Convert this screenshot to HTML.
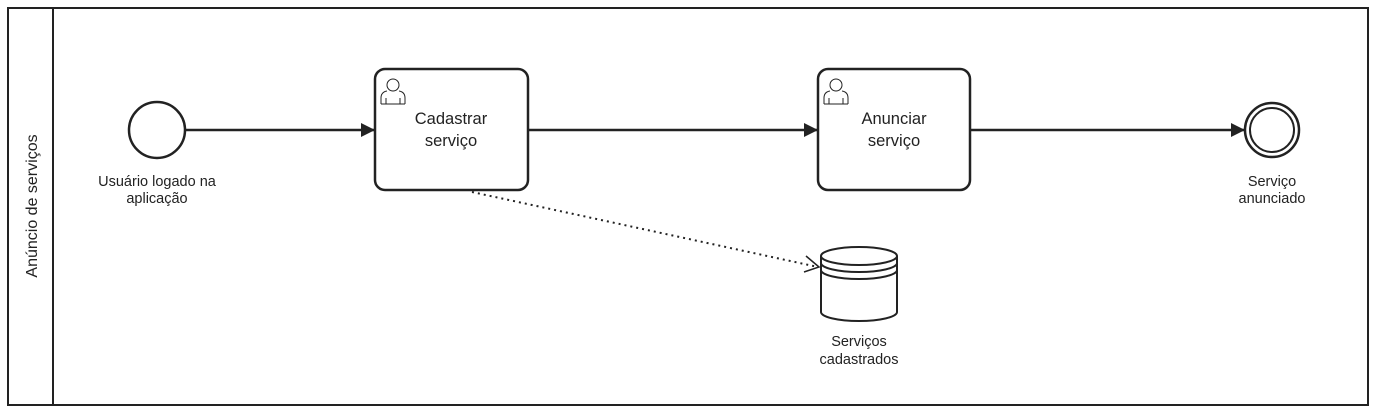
<!DOCTYPE html>
<html><head><style>body{margin:0;background:#fff}svg{display:block}text{font-family:"Liberation Sans",sans-serif;fill:#222}</style></head><body>
<svg width="1376" height="415" viewBox="0 0 1376 415">
<defs><marker id="a" markerWidth="14" markerHeight="14" refX="13" refY="7" orient="auto" markerUnits="userSpaceOnUse"><path d="M0,0 L14,7 L0,14z" fill="#222"/></marker></defs>
<rect x="8" y="8" width="1360" height="397" fill="none" stroke="#222" stroke-width="2"/>
<line x1="53" y1="8" x2="53" y2="405" stroke="#222" stroke-width="2"/>
<text transform="translate(37,206) rotate(-90)" text-anchor="middle" font-size="16">Anúncio de serviços</text>
<circle cx="157" cy="130" r="28" fill="#fff" stroke="#222" stroke-width="2.5"/>
<text x="157" y="186" text-anchor="middle" font-size="14.5">Usuário logado na</text>
<text x="157" y="203" text-anchor="middle" font-size="14.5">aplicação</text>
<line x1="185" y1="130" x2="374" y2="130" stroke="#222" stroke-width="2.5" marker-end="url(#a)"/>
<rect x="375" y="69" width="153" height="121" rx="10" fill="#fff" stroke="#222" stroke-width="2.5"/>
<text x="451" y="124" text-anchor="middle" font-size="16.5">Cadastrar</text>
<text x="451" y="146" text-anchor="middle" font-size="16.5">serviço</text>
<g fill="none" stroke="#222" stroke-width="1"><circle cx="393" cy="85" r="6"/><path d="M381,104 v-6 q0,-6 6,-7 M405,104 v-6 q0,-6 -6,-7 M381,104 h24 M386,104 v-6 M400,104 v-6"/></g>
<line x1="528" y1="130" x2="817" y2="130" stroke="#222" stroke-width="2.5" marker-end="url(#a)"/>
<rect x="818" y="69" width="152" height="121" rx="10" fill="#fff" stroke="#222" stroke-width="2.5"/>
<text x="894" y="124" text-anchor="middle" font-size="16.5">Anunciar</text>
<text x="894" y="146" text-anchor="middle" font-size="16.5">serviço</text>
<g fill="none" stroke="#222" stroke-width="1"><circle cx="836" cy="85" r="6"/><path d="M824,104 v-6 q0,-6 6,-7 M848,104 v-6 q0,-6 -6,-7 M824,104 h24 M829,104 v-6 M843,104 v-6"/></g>
<line x1="970" y1="130" x2="1244" y2="130" stroke="#222" stroke-width="2.5" marker-end="url(#a)"/>
<circle cx="1272" cy="130" r="27" fill="#fff" stroke="#222" stroke-width="2.5"/>
<circle cx="1272" cy="130" r="22" fill="none" stroke="#222" stroke-width="2"/>
<text x="1272" y="186" text-anchor="middle" font-size="14.5">Serviço</text>
<text x="1272" y="203" text-anchor="middle" font-size="14.5">anunciado</text>
<line x1="472" y1="192" x2="818" y2="267" stroke="#222" stroke-width="2" stroke-dasharray="2,4"/>
<path d="M806,256 L819,267 L804,272" fill="none" stroke="#222" stroke-width="1.5"/>
<path d="M821,256 v56 a38,9 0 0 0 76,0 v-56" fill="#fff" stroke="#222" stroke-width="2"/>
<ellipse cx="859" cy="256" rx="38" ry="9" fill="#fff" stroke="#222" stroke-width="2"/>
<path d="M821,263 a38,9 0 0 0 76,0 M821,270 a38,9 0 0 0 76,0" fill="none" stroke="#222" stroke-width="2"/>
<text x="859" y="346" text-anchor="middle" font-size="14.5">Serviços</text>
<text x="859" y="364" text-anchor="middle" font-size="14.5">cadastrados</text>
</svg></body></html>
